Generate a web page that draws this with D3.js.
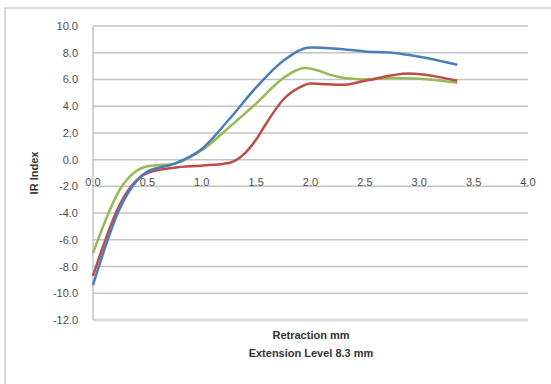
<!DOCTYPE html>
<html><head><meta charset="utf-8">
<script src="https://cdn.jsdelivr.net/npm/d3@7"></script>
<style>body{margin:0;background:#fff;}svg{display:block;}</style>
</head><body>
<svg id="c" width="551" height="384"></svg>
<script>
const blueX  = [0, 0.25, 0.5, 0.75, 1.0, 1.25, 1.5, 1.75, 2.0, 2.25, 2.5, 2.75, 3.0, 3.35];
const blueY  = [-9.4, -3.6, -0.9, -0.3, 0.8, 3.0, 5.4, 7.4, 8.4, 8.3, 8.1, 8.0, 7.7, 7.1];
const greenX = [0, 0.25, 0.5, 0.75, 1.0, 1.25, 1.5, 1.75, 1.95, 2.25, 2.5, 2.75, 3.0, 3.35];
const greenY = [-7.0, -2.2, -0.5, -0.3, 0.7, 2.4, 4.2, 6.1, 6.85, 6.2, 6.0, 6.1, 6.05, 5.75];
const redX   = [0, 0.25, 0.5, 0.75, 1.0, 1.25, 1.4, 1.5, 1.6, 1.75, 1.9, 2.0, 2.3, 2.5, 2.9, 3.35];
const redY   = [-8.7, -3.3, -1.0, -0.6, -0.45, -0.25, 0.5, 1.5, 2.8, 4.5, 5.4, 5.7, 5.6, 5.9, 6.45, 5.9];
const xTicks = [0, 0.5, 1.0, 1.5, 2.0, 2.5, 3.0, 3.5, 4.0];
const yTicks = [10, 8, 6, 4, 2, 0, -2, -4, -6, -8, -10, -12];
const xTitle = "Retraction mm";
const xTitle2 = "Extension Level 8.3 mm";
const yTitle = "IR Index";

const svg = d3.select("#c");
const font = "'Liberation Sans', Arial, sans-serif";
svg.append("rect").attr("x",5).attr("y",8).attr("width",560).attr("height",400)
  .attr("fill","#fff").attr("stroke","#d9d9d9").attr("stroke-width",2);

const x = d3.scaleLinear().domain([0,4]).range([93,528]);
const y = d3.scaleLinear().domain([-12,10]).range([320,26]);
const fmt = v => (v<0?"-":"") + Math.abs(v).toFixed(1);

// gridlines
svg.append("g").selectAll("line").data(yTicks.filter(v=>v!==-12)).join("line")
  .attr("x1",x(0)).attr("x2",x(4)).attr("y1",d=>y(d)).attr("y2",d=>y(d))
  .attr("stroke","#c4c4c4").attr("stroke-width",1.5);
svg.append("line").attr("x1",x(0)).attr("x2",x(4)).attr("y1",y(-12)).attr("y2",y(-12))
  .attr("stroke","#dcdcdc").attr("stroke-width",3);
svg.append("line").attr("x1",x(0)).attr("x2",x(0)).attr("y1",y(10)).attr("y2",y(-12))
  .attr("stroke","#c4c4c4").attr("stroke-width",1.5);

// y labels
svg.append("g").selectAll("text").data(yTicks).join("text")
  .attr("x",78).attr("y",d=>y(d)+4).attr("text-anchor","end")
  .attr("font-family",font).attr("font-size",11).attr("fill","#4d4d4d")
  .text(fmt);
// x labels
svg.append("g").selectAll("text").data(xTicks).join("text")
  .attr("x",d=>x(d)).attr("y",y(0)+26).attr("text-anchor","middle")
  .attr("font-family",font).attr("font-size",11).attr("fill","#4d4d4d")
  .text(fmt);

// titles
svg.append("text").attr("transform",`translate(38,${(y(10)+y(-12))/2}) rotate(-90)`)
  .attr("text-anchor","middle").attr("font-family",font).attr("font-size",11)
  .attr("font-weight","bold").attr("fill","#333").text(yTitle);
svg.append("text").attr("x",311).attr("y",339).attr("text-anchor","middle")
  .attr("font-family",font).attr("font-size",11).attr("font-weight","bold").attr("fill","#333").text(xTitle);
svg.append("text").attr("x",311).attr("y",357).attr("text-anchor","middle")
  .attr("font-family",font).attr("font-size",11).attr("font-weight","bold").attr("fill","#333").text(xTitle2);

const line = d3.line().x(d=>x(d[0])).y(d=>y(d[1])).curve(d3.curveMonotoneX);
const series = [
  {xs:greenX, ys:greenY, c:"#98b954"},
  {xs:redX, ys:redY, c:"#be4b48"},
  {xs:blueX, ys:blueY, c:"#4a7ebb"}
];
series.forEach(s=>{
  svg.append("path").attr("d", line(s.xs.map((v,i)=>[v,s.ys[i]])))
    .attr("fill","none").attr("stroke",s.c).attr("stroke-width",2.5);
});
</script>
</body></html>
